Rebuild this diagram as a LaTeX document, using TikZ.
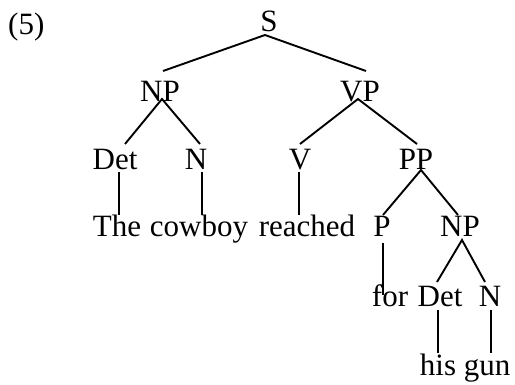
\documentclass[tikz,border=0pt]{standalone}
\usepackage{fontspec}
\setmainfont{Liberation Serif}
\begin{document}
\begin{tikzpicture}[x=1pt,y=-1pt,
  lab/.style={anchor=base,inner sep=0pt,font=\fontsize{31}{36}\selectfont},
  br/.style={line width=1.9pt}]
\useasboundingbox (0,0) rectangle (515,385);
\node[lab,anchor=base west] (num) at (8,35) {(5)};
\node[lab] (S) at (269,32) {S};
\node[lab] (NPa) at (160,102) {NP};
\node[lab] (VP) at (360,102) {VP};
\node[lab] (Deta) at (115,170) {Det};
\node[lab] (Na) at (196,170) {N};
\node[lab] (V) at (300,170) {V};
\node[lab] (PP) at (416,170) {PP};
\node[lab] (The) at (117,237) {The};
\node[lab] (cowboy) at (199,237) {cowboy};
\node[lab] (reached) at (307,237) {reached};
\node[lab] (P) at (382,237) {P};
\node[lab] (NPb) at (460,237) {NP};
\node[lab] (for) at (390,307) {for};
\node[lab] (Detb) at (440,307) {Det};
\node[lab] (Nb) at (490,307) {N};
\node[lab] (his) at (438,375) {his};
\node[lab] (gun) at (487,375) {gun};
\draw[br] ([shift={(3,-31)}]NPa.base) -- ([shift={(-4,3)}]S.base) -- ([shift={(6,-31)}]VP.base);
\draw[br] ([shift={(10,-26)}]Deta.base) -- ([shift={(2,-3)}]NPa.base) -- ([shift={(4,-26)}]Na.base);
\draw[br] ([shift={(0,-26)}]V.base) -- ([shift={(-2,-3)}]VP.base) -- ([shift={(1,-26)}]PP.base);
\draw[br] ([shift={(4,2)}]Deta.base) -- ([shift={(2,-22)}]The.base);
\draw[br] ([shift={(6,2)}]Na.base) -- ([shift={(3,-22)}]cowboy.base);
\draw[br] ([shift={(-1,2)}]V.base) -- ([shift={(-8,-22)}]reached.base);
\draw[br] ([shift={(1,-22)}]P.base) -- ([shift={(5,0)}]PP.base) -- ([shift={(-2,-22)}]NPb.base);
\draw[br] ([shift={(1,6)}]P.base) -- ([shift={(-7,-12)}]for.base);
\draw[br] ([shift={(-3,-25)}]Detb.base) -- ([shift={(2,3)}]NPb.base) -- ([shift={(-5,-25)}]Nb.base);
\draw[br] ([shift={(-2,3)}]Detb.base) -- ([shift={(0,-22)}]his.base);
\draw[br] ([shift={(1,3)}]Nb.base) -- ([shift={(4,-22)}]gun.base);
\end{tikzpicture}
\end{document}
